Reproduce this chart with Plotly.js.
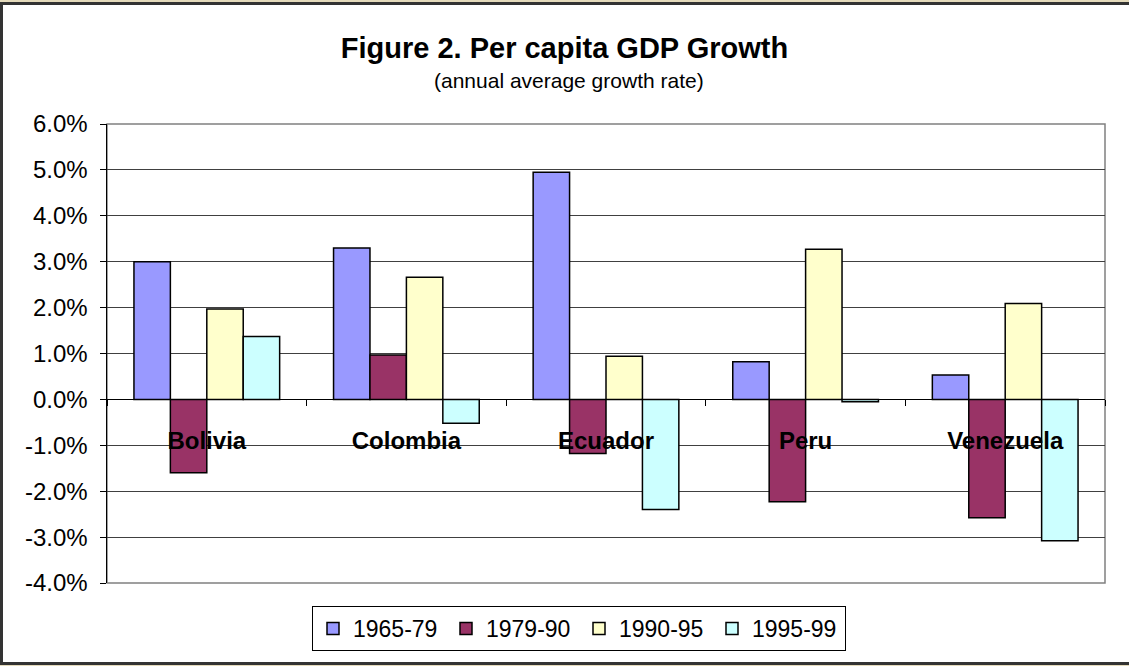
<!DOCTYPE html>
<html>
<head>
<meta charset="utf-8">
<script src="https://cdn.plot.ly/plotly-3.0.1.min.js"></script>
<style>
html,body{margin:0;padding:0;background:#e4dabb;overflow:hidden;width:1129px;height:666px;position:relative;}
#panel{position:absolute;left:0px;top:2px;width:1129px;height:657px;background:#fff;border:3px solid #333;border-right:none;box-sizing:content-box;}
#chart{position:absolute;left:0;top:0;width:1129px;height:666px;}
</style>
</head>
<body>
<div id="panel"></div>
<div id="chart"></div>
<script>
const countries = ["Bolivia", "Colombia", "Ecuador", "Peru", "Venezuela"];
const periods = ["1965-79", "1979-90", "1990-95", "1995-99"];
const g1965_79 = [3.0, 3.3, 4.95, 0.82, 0.53];
const g1979_90 = [-1.6, 0.97, -1.18, -2.23, -2.58];
const g1990_95 = [1.97, 2.66, 0.94, 3.27, 2.09];
const g1995_99 = [1.37, -0.52, -2.4, -0.05, -3.08];
const colors = ["#9999FF", "#993366", "#FFFFCC", "#CCFFFF"];
const yTicks = [-4, -3, -2, -1, 0, 1, 2, 3, 4, 5, 6];

const series = [g1965_79, g1979_90, g1990_95, g1995_99];
const traces = series.map((vals, i) => ({
  type: "bar",
  name: periods[i],
  x: countries,
  y: vals,
  marker: {color: colors[i], line: {color: "#000", width: 1.5}},
  hoverinfo: "x+y+name"
}));

const L = 107, R = 24, T = 124, B = 83, W = 1129, H = 666;
const pw = W - L - R, ph = H - T - B;
const px = v => (v - L) / pw;
const py = v => (H - B - v) / ph;

const layout = {
  width: W, height: H,
  margin: {l: L, r: R, t: T, b: B},
  paper_bgcolor: "rgba(0,0,0,0)",
  plot_bgcolor: "#ffffff",
  font: {family: "Liberation Sans, Arial, sans-serif", color: "#000"},
  title: {
    text: "<b>Figure 2. Per capita GDP Growth</b>",
    font: {size: 29, color: "#000"},
    x: 0.5, xref: "container", xanchor: "center",
    y: 1 - 48 / H, yref: "container", yanchor: "middle"
  },
  annotations: [{
    text: "(annual average growth rate)",
    xref: "paper", yref: "paper",
    x: px(569), y: py(80), xanchor: "center", yanchor: "middle",
    showarrow: false,
    font: {size: 21, color: "#000"}
  }],
  barmode: "group",
  bargap: 0.27,
  bargroupgap: 0,
  showlegend: true,
  legend: {
    orientation: "h",
    x: px(579), xanchor: "center",
    y: py(606), yanchor: "top",
    bgcolor: "#ffffff",
    bordercolor: "#000", borderwidth: 1,
    font: {size: 23, color: "#000"},
    entrywidth: 88,
    traceorder: "normal"
  },
  xaxis: {
    type: "category",
    anchor: "free",
    position: 0.4,
    showline: true, linecolor: "#000", linewidth: 1,
    ticks: "outside", tickson: "boundaries", ticklen: 6, tickcolor: "#000",
    ticklabelstandoff: 20,
    tickfont: {size: 24, color: "#000", family: "Liberation Sans, Arial, sans-serif", weight: "bold"},
    showgrid: false,
    zeroline: false,
    fixedrange: true
  },
  yaxis: {
    range: [-4, 6],
    tickvals: yTicks,
    ticktext: yTicks.map(v => v.toFixed(1) + "%"),
    ticks: "outside", ticklen: 6, tickcolor: "#000",
    ticklabelstandoff: 7,
    showline: true, linecolor: "#000", linewidth: 1.5,
    showgrid: true, gridcolor: "#404040", gridwidth: 1,
    zeroline: false,
    tickfont: {size: 24, color: "#000"},
    fixedrange: true
  },
  shapes: [
    {type: "rect", xref: "paper", yref: "paper", layer: "below",
     x0: 0, x1: 1, y0: 0, y1: 1,
     fillcolor: "rgba(0,0,0,0)", line: {color: "#808080", width: 1.5}}
  ]
};

Plotly.newPlot("chart", traces, layout, {displayModeBar: false, staticPlot: true});
</script>
</body>
</html>
